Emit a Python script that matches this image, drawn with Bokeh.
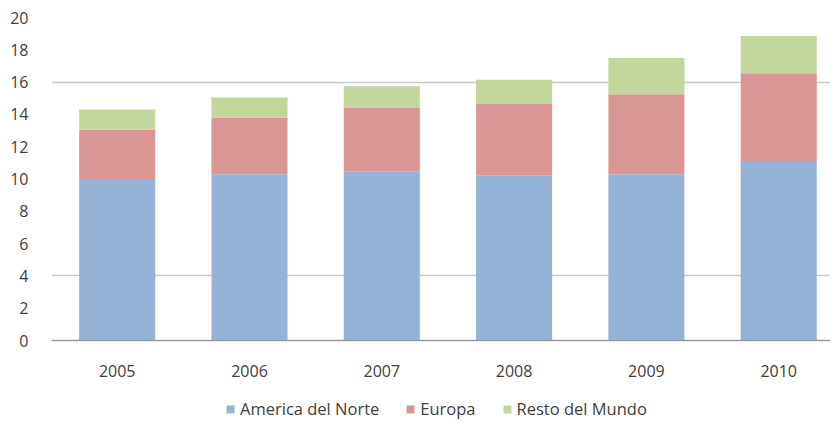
from bokeh.plotting import figure
from bokeh.layouts import column
from bokeh.models import ColumnDataSource, Range1d, FixedTicker, SingleIntervalTicker, Legend, LegendItem
from bokeh.embed import file_html
from bokeh.resources import INLINE

years = ["2005", "2006", "2007", "2008", "2009", "2010"]
america_norte = [10.0, 10.3, 10.45, 10.2, 10.3, 11.05]
europa = [3.05, 3.5, 3.95, 4.45, 4.95, 5.5]
resto_mundo = [1.25, 1.25, 1.35, 1.5, 2.25, 2.3]
series_names = ["America del Norte", "Europa", "Resto del Mundo"]
colors = ["#95b3d7", "#d99694", "#c3d69b"]
gridline_values = [4, 16]

FONT = "Open Sans"
TXT = "#404040"

x = list(range(len(years)))
source = ColumnDataSource(dict(x=x, a=america_norte, e=europa, r=resto_mundo))

p = figure(width=830, height=385, output_backend="svg", toolbar_location=None,
           x_range=Range1d(-0.4966, 5.3915), y_range=Range1d(0, 20),
           min_border_left=51, min_border_right=0, min_border_top=17, min_border_bottom=45)
p.outline_line_color = None
p.background_fill_color = "white"
p.border_fill_color = "white"

p.vbar_stack(["a", "e", "r"], x="x", width=0.575, source=source,
             color=colors, line_color=None)

# axes
p.xaxis.ticker = FixedTicker(ticks=x)
p.xaxis.major_label_overrides = {i: y for i, y in enumerate(years)}
p.xaxis.axis_line_color = "#9a9a9a"
p.xaxis.axis_line_width = 1.5
p.xaxis.major_tick_line_color = None
p.xaxis.minor_tick_line_color = None
p.xaxis.major_label_standoff = 18
p.xaxis.major_label_text_font = FONT
p.xaxis.major_label_text_font_size = "16px"
p.xaxis.major_label_text_color = TXT

p.yaxis.ticker = SingleIntervalTicker(interval=2)
p.yaxis.axis_line_color = None
p.yaxis.major_tick_line_color = None
p.yaxis.minor_tick_line_color = None
p.yaxis.major_label_standoff = 17
p.yaxis.major_label_text_font = FONT
p.yaxis.major_label_text_font_size = "16px"
p.yaxis.major_label_text_color = TXT

p.xgrid.grid_line_color = None
p.ygrid.ticker = FixedTicker(ticks=gridline_values)
p.ygrid.grid_line_color = "#c8c8c8"
p.ygrid.grid_line_width = 1.5
p.ygrid.level = "underlay"

# legend in a small strip below the chart (swatch renderers sit outside the strip's visible range)
lf = figure(width=830, height=35, output_backend="svg", toolbar_location=None,
            x_range=Range1d(0, 1), y_range=Range1d(0, 1),
            min_border_left=0, min_border_right=0, min_border_top=0, min_border_bottom=0)
lf.axis.visible = False
lf.grid.visible = False
lf.outline_line_color = None
lf.border_fill_color = "white"
swatches = [lf.vbar(x=[-10], top=[-10], bottom=[-11], width=1, fill_color=c, line_color=None)
            for c in colors]
legend = Legend(items=[LegendItem(label=n, renderers=[r]) for n, r in zip(series_names, swatches)],
                orientation="horizontal", location=(174, 0),
                label_text_font=FONT, label_text_font_size="16.5px", label_text_color=TXT,
                glyph_width=10, glyph_height=10, label_standoff=5, spacing=26,
                border_line_color=None, background_fill_alpha=0, padding=3, margin=0)
lf.add_layout(legend, "center")

open("out.html", "w").write(file_html(column(p, lf, spacing=0), INLINE))
